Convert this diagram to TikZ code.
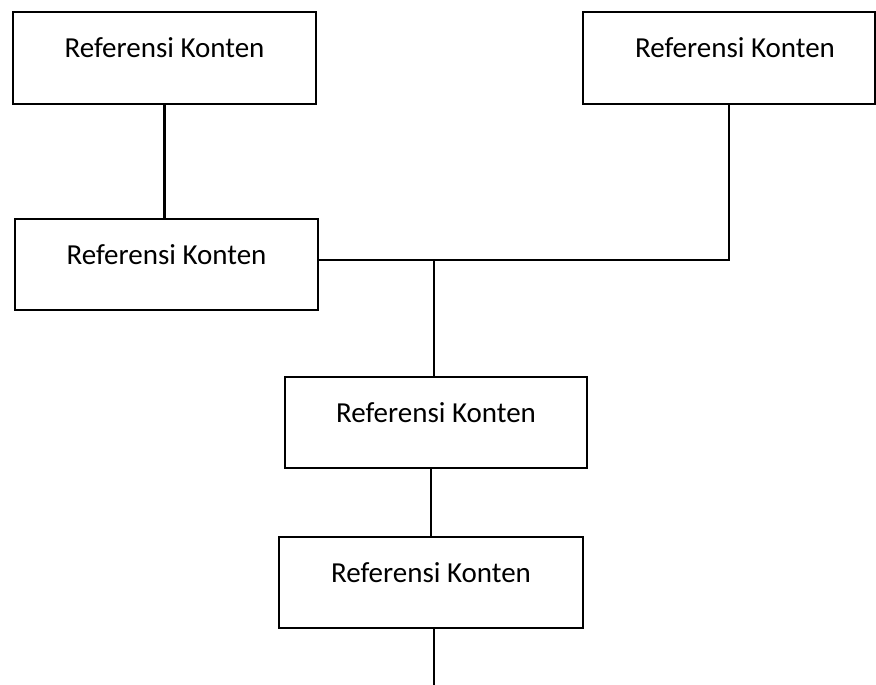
\documentclass[tikz,border=0pt]{standalone}
\usepackage{fontspec}
\setmainfont{Carlito}
\begin{document}
\begin{tikzpicture}[x=1pt,y=-1pt,
  box/.style={draw=black, line width=2.5pt, rectangle, inner sep=0pt, outer sep=0pt,
    minimum height=91pt, text height=20pt, text depth=20pt,
    font=\fontsize{29}{34}\selectfont},
  conn/.style={draw=black, line width=2.5pt}]
\useasboundingbox (0,0) rectangle (876,685);
\node[box, minimum width=303pt, minimum height=92pt] (b1) at (164.5,58) {Referensi Konten};
\node[box, minimum width=292pt, minimum height=92pt] (b2) at (729,58) {\hspace*{12pt}Referensi Konten};
\node[box, minimum width=303pt] (b3) at (166.5,264.5) {Referensi Konten};
\node[box, minimum width=302pt] (b4) at (436,422.5) {Referensi Konten};
\node[box, minimum width=304pt] (b5) at (431,582.5) {Referensi Konten};
\coordinate (j) at (434,260);
\coordinate (end) at (434,685);
\draw[conn] (b1.south) -- (b1.south |- b3.north);
\draw[conn] (b2.south) -- (b2.south |- j) -- (b3.east |- j);
\draw[conn] (j) -- (j |- b4.north);
\draw[conn] (b5.north |- b4.south) -- (b5.north);
\draw[conn] (end |- b5.south) -- (end);
\end{tikzpicture}
\end{document}
